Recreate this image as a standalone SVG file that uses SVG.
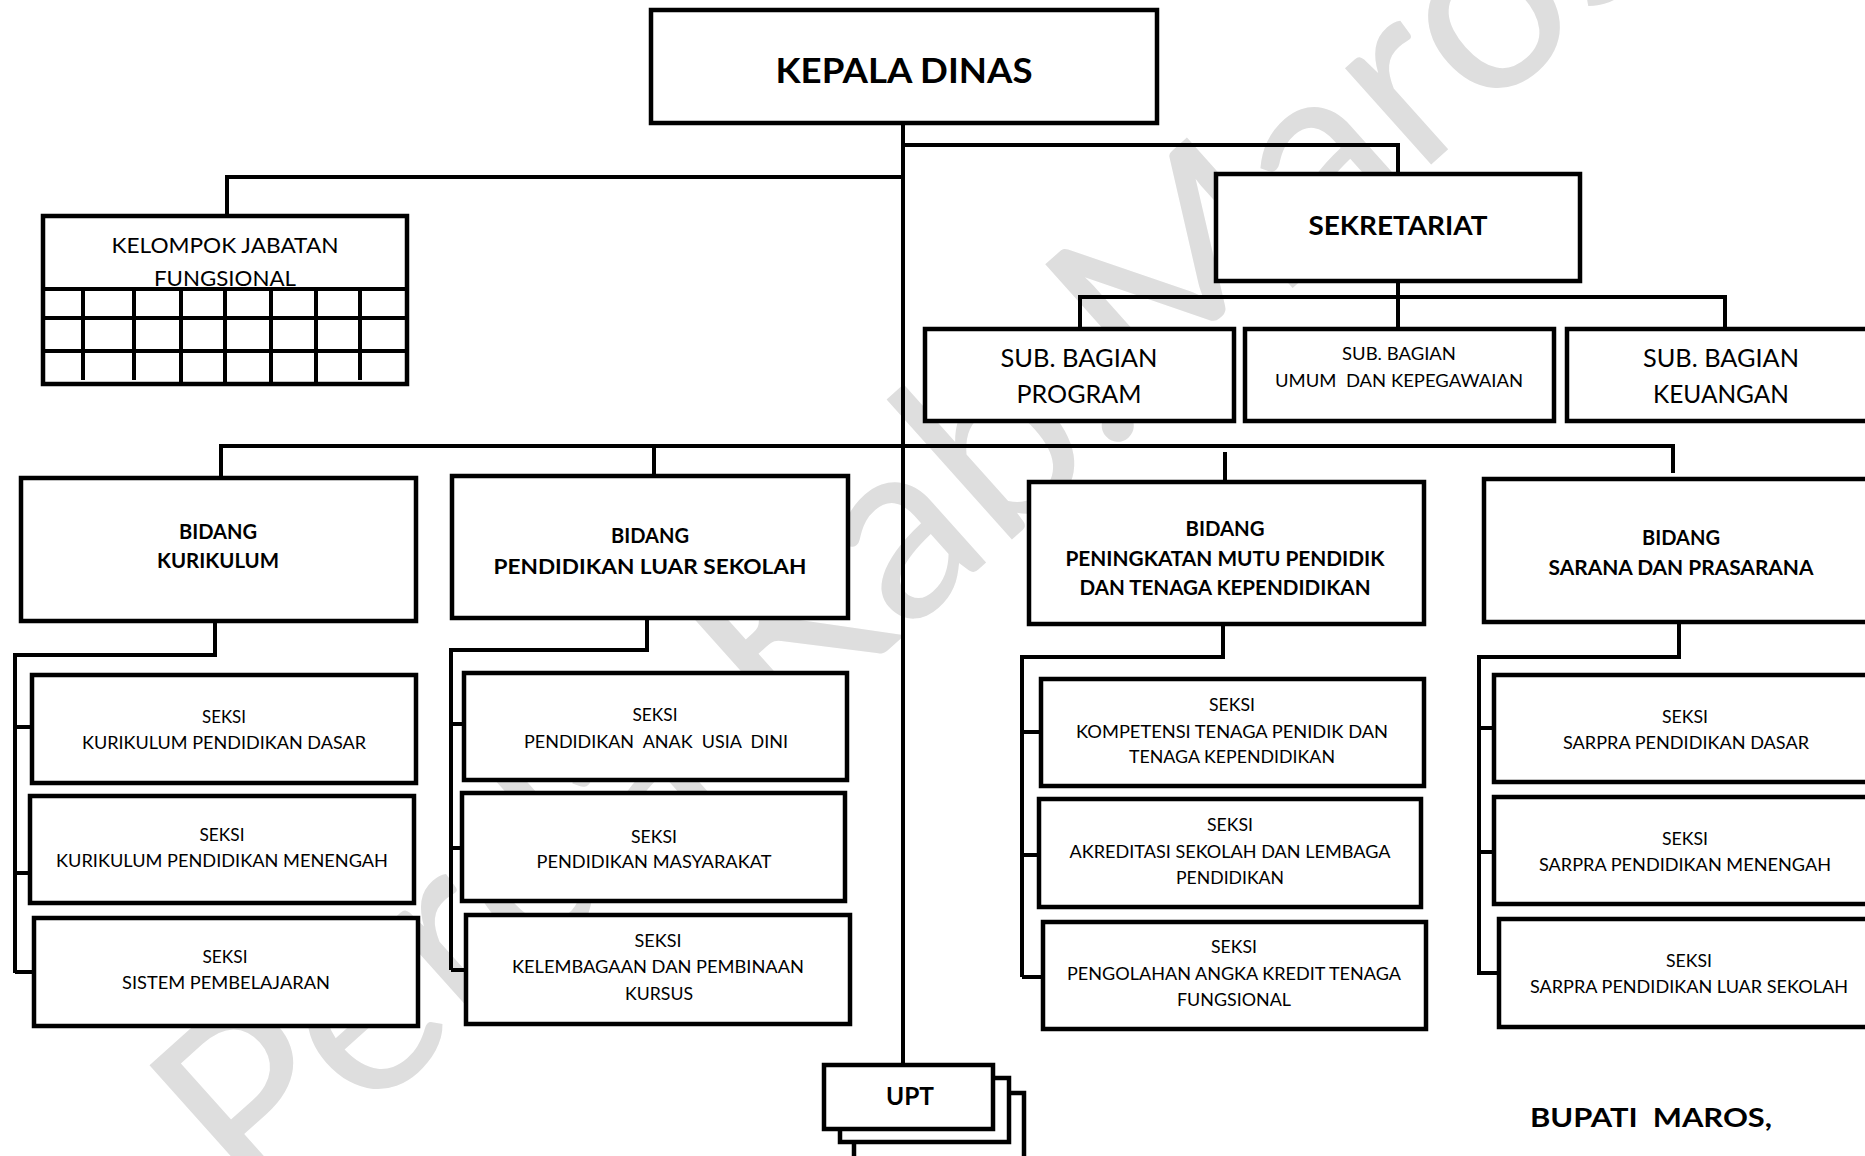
<svg xmlns="http://www.w3.org/2000/svg" width="1865" height="1156" viewBox="0 0 1865 1156">
<style>
.bg{fill:#ffffff}
.box{fill:#ffffff;stroke:#000;stroke-width:4.5}
.ln{fill:none;stroke:#000;stroke-width:4}
.t{font-family:Lato,"Open Sans","Liberation Sans",sans-serif;fill:#000;text-anchor:middle;white-space:pre}
.b{font-weight:bold}
.s{font-size:17.5px}
.bd{font-size:20.5px;font-weight:bold}
.wm{font-family:Lato,"Open Sans","Liberation Sans",sans-serif;font-weight:normal;fill:#dedede}
</style>
<rect class="bg" x="0" y="0" width="1865" height="1156"/>
<g id="watermark">
<text class="wm" font-size="255" transform="translate(254,1217) rotate(-41.8)">Perda Kab.Maros</text>
</g>
<g id="connectors">
<path class="ln" d="M903 124V1065"/>
<path class="ln" d="M903 145H1398V172"/>
<path class="ln" d="M903 177H227V215"/>
<path class="ln" d="M1398 281V327"/>
<path class="ln" d="M1080 327V297H1725V327"/>
<path class="ln" d="M221 477V446H1673V473"/>
<path class="ln" d="M654 446V475"/>
<path class="ln" d="M1225 452V481"/>
<path class="ln" d="M215 621V655H15V973"/>
<path class="ln" d="M15 727H32M15 873H30M15 972H34"/>
<path class="ln" d="M647 618V650H451V970"/>
<path class="ln" d="M451 724H464M451 848H462M451 970H466"/>
<path class="ln" d="M1223 624V657H1022V977"/>
<path class="ln" d="M1022 732H1041M1022 855H1039M1022 977H1043"/>
<path class="ln" d="M1679 622V657H1479V975"/>
<path class="ln" d="M1479 728H1494M1479 852H1494M1479 973H1499"/>
</g>
<g id="kepala-dinas">
<rect class="box" x="651" y="10" width="506" height="113"/>
<text class="t b" x="904" y="83" font-size="35" textLength="257" lengthAdjust="spacingAndGlyphs">KEPALA DINAS</text>
</g>
<g id="kelompok-jabatan-fungsional">
<rect class="box" x="43" y="216" width="364" height="168"/>
<path class="ln" d="M43 289H407M41 318H405M43 351H406"/>
<path class="ln" d="M83 287V380M134 287V380M360 287V380M181 289V384M225 289V384M271 289V384M316 289V384"/>
<text class="t" x="225" y="253" font-size="22" textLength="227" lengthAdjust="spacingAndGlyphs">KELOMPOK JABATAN</text>
<text class="t" x="225" y="286" font-size="22" textLength="142" lengthAdjust="spacingAndGlyphs">FUNGSIONAL</text>
</g>
<g id="sekretariat">
<rect class="box" x="1216" y="174" width="364" height="107"/>
<text class="t b" x="1398" y="235" font-size="26.5" textLength="179" lengthAdjust="spacingAndGlyphs">SEKRETARIAT</text>
</g>
<g id="sub-bagian-program">
<rect class="box" x="925" y="329" width="309" height="92"/>
<text class="t" x="1079" y="367" font-size="25" textLength="157" lengthAdjust="spacingAndGlyphs">SUB. BAGIAN</text>
<text class="t" x="1079" y="403" font-size="25" textLength="125" lengthAdjust="spacingAndGlyphs">PROGRAM</text>
</g>
<g id="sub-bagian-umum">
<rect class="box" x="1245" y="329" width="309" height="92"/>
<text class="t" x="1399" y="360" font-size="17" textLength="114" lengthAdjust="spacingAndGlyphs">SUB. BAGIAN</text>
<text class="t" x="1399" y="387" font-size="17" textLength="248" lengthAdjust="spacingAndGlyphs">UMUM  DAN KEPEGAWAIAN</text>
</g>
<g id="sub-bagian-keuangan">
<rect class="box" x="1567" y="329" width="320" height="92"/>
<text class="t" x="1721" y="367" font-size="25" textLength="156" lengthAdjust="spacingAndGlyphs">SUB. BAGIAN</text>
<text class="t" x="1721" y="403" font-size="25" textLength="136" lengthAdjust="spacingAndGlyphs">KEUANGAN</text>
</g>
<g id="bidang-kurikulum">
<rect class="box" x="21" y="478" width="395" height="143"/>
<text class="t bd" x="218" y="539" textLength="78" lengthAdjust="spacingAndGlyphs">BIDANG</text>
<text class="t bd" x="218" y="568" textLength="122" lengthAdjust="spacingAndGlyphs">KURIKULUM</text>
</g>
<g id="bidang-pls">
<rect class="box" x="452" y="476" width="396" height="142"/>
<text class="t bd" x="650" y="543" textLength="78" lengthAdjust="spacingAndGlyphs">BIDANG</text>
<text class="t b" x="650" y="574" font-size="21.5" textLength="313" lengthAdjust="spacingAndGlyphs">PENDIDIKAN LUAR SEKOLAH</text>
</g>
<g id="bidang-peningkatan-mutu">
<rect class="box" x="1029" y="482" width="395" height="142"/>
<text class="t bd" x="1225" y="536" textLength="79" lengthAdjust="spacingAndGlyphs">BIDANG</text>
<text class="t bd" x="1225" y="566" textLength="319" lengthAdjust="spacingAndGlyphs">PENINGKATAN MUTU PENDIDIK</text>
<text class="t bd" x="1225" y="595" textLength="291" lengthAdjust="spacingAndGlyphs">DAN TENAGA KEPENDIDIKAN</text>
</g>
<g id="bidang-sarana-prasarana">
<rect class="box" x="1484" y="479" width="400" height="143"/>
<text class="t bd" x="1681" y="545" textLength="78" lengthAdjust="spacingAndGlyphs">BIDANG</text>
<text class="t bd" x="1681" y="575" textLength="265" lengthAdjust="spacingAndGlyphs">SARANA DAN PRASARANA</text>
</g>
<g id="seksi-kurikulum-dasar">
<rect class="box" x="32" y="675" width="384" height="108"/>
<text class="t s" x="224" y="723" textLength="44" lengthAdjust="spacingAndGlyphs">SEKSI</text>
<text class="t s" x="224" y="749" textLength="284" lengthAdjust="spacingAndGlyphs">KURIKULUM PENDIDIKAN DASAR</text>
</g>
<g id="seksi-kurikulum-menengah">
<rect class="box" x="30" y="796" width="384" height="107"/>
<text class="t s" x="222" y="841" textLength="45" lengthAdjust="spacingAndGlyphs">SEKSI</text>
<text class="t s" x="222" y="867" textLength="332" lengthAdjust="spacingAndGlyphs">KURIKULUM PENDIDIKAN MENENGAH</text>
</g>
<g id="seksi-sistem-pembelajaran">
<rect class="box" x="34" y="918" width="384" height="108"/>
<text class="t s" x="225" y="963" textLength="45" lengthAdjust="spacingAndGlyphs">SEKSI</text>
<text class="t s" x="226" y="989" textLength="208" lengthAdjust="spacingAndGlyphs">SISTEM PEMBELAJARAN</text>
</g>
<g id="seksi-paud">
<rect class="box" x="464" y="673" width="383" height="107"/>
<text class="t s" x="655" y="721" textLength="45" lengthAdjust="spacingAndGlyphs">SEKSI</text>
<text class="t s" x="656" y="748" textLength="264" lengthAdjust="spacingAndGlyphs">PENDIDIKAN  ANAK  USIA  DINI</text>
</g>
<g id="seksi-pendidikan-masyarakat">
<rect class="box" x="462" y="793" width="383" height="108"/>
<text class="t s" x="654" y="843" textLength="46" lengthAdjust="spacingAndGlyphs">SEKSI</text>
<text class="t s" x="654" y="868" textLength="235" lengthAdjust="spacingAndGlyphs">PENDIDIKAN MASYARAKAT</text>
</g>
<g id="seksi-kelembagaan-kursus">
<rect class="box" x="466" y="915" width="384" height="109"/>
<text class="t s" x="658" y="947" textLength="47" lengthAdjust="spacingAndGlyphs">SEKSI</text>
<text class="t s" x="658" y="973" textLength="292" lengthAdjust="spacingAndGlyphs">KELEMBAGAAN DAN PEMBINAAN</text>
<text class="t s" x="659" y="1000" textLength="68" lengthAdjust="spacingAndGlyphs">KURSUS</text>
</g>
<g id="seksi-kompetensi">
<rect class="box" x="1041" y="679" width="383" height="107"/>
<text class="t s" x="1232" y="711" textLength="46" lengthAdjust="spacingAndGlyphs">SEKSI</text>
<text class="t s" x="1232" y="738" textLength="312" lengthAdjust="spacingAndGlyphs">KOMPETENSI TENAGA PENIDIK DAN</text>
<text class="t s" x="1232" y="763" textLength="206" lengthAdjust="spacingAndGlyphs">TENAGA KEPENDIDIKAN</text>
</g>
<g id="seksi-akreditasi">
<rect class="box" x="1039" y="799" width="382" height="108"/>
<text class="t s" x="1230" y="831" textLength="46" lengthAdjust="spacingAndGlyphs">SEKSI</text>
<text class="t s" x="1230" y="858" textLength="321" lengthAdjust="spacingAndGlyphs">AKREDITASI SEKOLAH DAN LEMBAGA</text>
<text class="t s" x="1230" y="884" textLength="108" lengthAdjust="spacingAndGlyphs">PENDIDIKAN</text>
</g>
<g id="seksi-pengolahan-angka-kredit">
<rect class="box" x="1043" y="922" width="383" height="107"/>
<text class="t s" x="1234" y="953" textLength="46" lengthAdjust="spacingAndGlyphs">SEKSI</text>
<text class="t s" x="1234" y="980" textLength="334" lengthAdjust="spacingAndGlyphs">PENGOLAHAN ANGKA KREDIT TENAGA</text>
<text class="t s" x="1234" y="1006" textLength="114" lengthAdjust="spacingAndGlyphs">FUNGSIONAL</text>
</g>
<g id="seksi-sarpra-dasar">
<rect class="box" x="1494" y="675" width="390" height="107"/>
<text class="t s" x="1685" y="723" textLength="46" lengthAdjust="spacingAndGlyphs">SEKSI</text>
<text class="t s" x="1686" y="749" textLength="246" lengthAdjust="spacingAndGlyphs">SARPRA PENDIDIKAN DASAR</text>
</g>
<g id="seksi-sarpra-menengah">
<rect class="box" x="1494" y="797" width="390" height="107"/>
<text class="t s" x="1685" y="845" textLength="46" lengthAdjust="spacingAndGlyphs">SEKSI</text>
<text class="t s" x="1685" y="871" textLength="292" lengthAdjust="spacingAndGlyphs">SARPRA PENDIDIKAN MENENGAH</text>
</g>
<g id="seksi-sarpra-luar-sekolah">
<rect class="box" x="1499" y="919" width="390" height="108"/>
<text class="t s" x="1689" y="967" textLength="46" lengthAdjust="spacingAndGlyphs">SEKSI</text>
<text class="t s" x="1689" y="993" textLength="318" lengthAdjust="spacingAndGlyphs">SARPRA PENDIDIKAN LUAR SEKOLAH</text>
</g>
<g id="upt">
<rect class="box" x="854" y="1093" width="170" height="80"/>
<rect class="box" x="840" y="1078" width="169" height="64"/>
<rect class="box" x="824" y="1065" width="169" height="64"/>
<text class="t b" x="910" y="1105" font-size="24" textLength="48" lengthAdjust="spacingAndGlyphs">UPT</text>
</g>
<g id="bupati-maros">
<text class="t b" x="1530" y="1127" font-size="26.5" style="text-anchor:start" textLength="242" lengthAdjust="spacingAndGlyphs">BUPATI  MAROS,</text>
</g>
</svg>
